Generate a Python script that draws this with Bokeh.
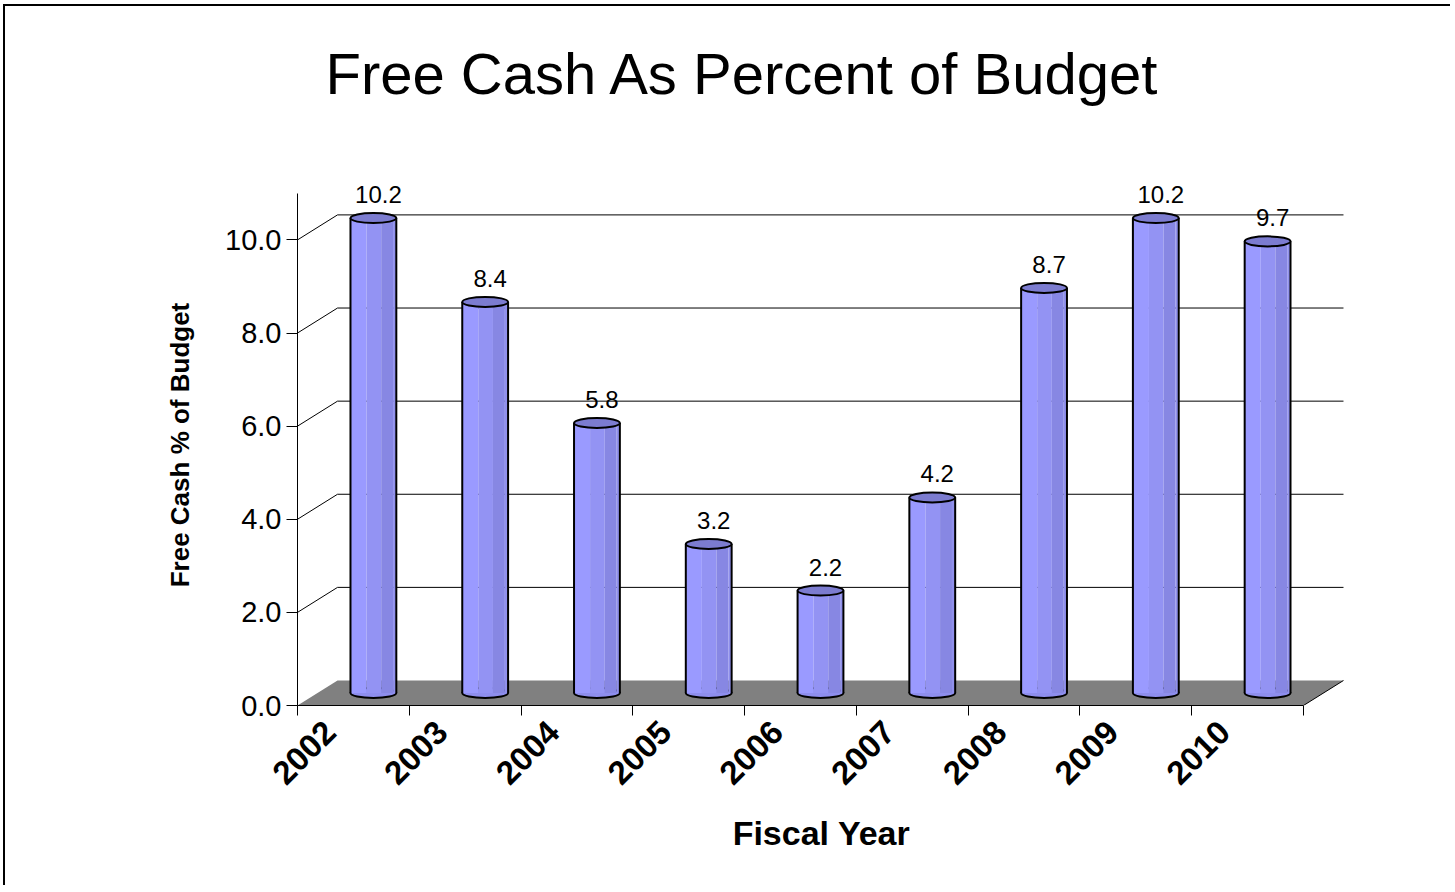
import numpy as np
from bokeh.plotting import figure
from bokeh.models import (Range1d, FixedTicker, PrintfTickFormatter, ColumnDataSource, LabelSet,
                          LinearAxis, Title, InlineStyleSheet)
from bokeh.core.properties import value
from bokeh.embed import file_html
from bokeh.resources import INLINE

# ---------------- data ----------------
years = ["2002", "2003", "2004", "2005", "2006", "2007", "2008", "2009", "2010"]
free_cash_pct = [10.2, 8.4, 5.8, 3.2, 2.2, 4.2, 8.7, 10.2, 9.7]
y_ticks = [0, 2, 4, 6, 8, 10]
y_max = 11

title_text = "Free Cash As Percent of Budget"
x_title = "Fiscal Year"
y_title = "Free Cash % of Budget"

# ---------------- style ----------------
FONT = "Liberation Sans"
DX, DY = 0.358, 0.537        # pseudo-3D depth offset (data units)
BAR_W = 0.41                 # cylinder width (category units)
CAP_H = 0.215                # cap ellipse height (value units)
STRIPS = [(0.00, 0.35, "#9A9AFF"), (0.35, 0.67, "#9393F3"),
          (0.67, 0.93, "#8787E3"), (0.93, 1.00, "#9090EC")]
CAP_COLOR = "#7C7CD0"
LABEL_SHIFT = 0.21           # rotated year labels anchor left of slot centre
OX, OY = 5, 6                # slide border offset

n = len(years)
W, H = 1455 - OX, 892 - OY - 2

p = figure(width=W, height=H, x_range=Range1d(0, n + 0.376), y_range=Range1d(0, 11.19),
           output_backend="svg", toolbar_location=None,
           min_border_left=297 - OX, min_border_right=W - (1345 - OX),
           min_border_top=184 - OY, min_border_bottom=H - (705 - OY),
           background_fill_color="white", border_fill_color="white")
p.margin = (OY, 0, 0, OX)
p.stylesheets = [InlineStyleSheet(css=":host { box-shadow: -2px -2px 0px 0px black; "
                                      "clip-path: inset(-3px 5px 5px -3px); }")]
p.outline_line_color = None
p.grid.visible = False
p.title_location = None

# invisible spacer between title and plot area (one hidden tick gives it its height)
spacer = LinearAxis(ticker=FixedTicker(ticks=[n / 2]), major_label_overrides={n / 2: ""},
                    major_tick_out=74, major_tick_in=0, major_label_standoff=0,
                    major_label_text_font_size="1px",
                    axis_line_color=None, major_tick_line_color=None,
                    minor_tick_line_color=None)
p.add_layout(spacer, "above")

# title (outside the spacer)
p.add_layout(Title(text=title_text, text_font=FONT, text_font_size="58px",
                   text_font_style="normal", text_color="black",
                   align="left", offset=28, standoff=10), "above")

# y axis
yax = p.left[0]
yax.bounds = (0, y_max)
yax.ticker = FixedTicker(ticks=y_ticks)
yax.formatter = PrintfTickFormatter(format="%.1f")
yax.major_tick_out = 11
yax.major_tick_in = 0
yax.minor_tick_line_color = None
yax.major_tick_line_color = "black"
yax.axis_line_color = "black"
yax.major_label_standoff = 5
yax.major_label_text_font = FONT
yax.major_label_text_font_size = "29px"
yax.major_label_text_color = "black"
yax.axis_label = y_title
yax.axis_label_text_font = FONT
yax.axis_label_text_font_size = "26px"
yax.axis_label_text_font_style = "bold"
yax.axis_label_text_color = "black"
yax.axis_label_standoff = 27

# x axis
label_pos = [i + 0.5 - LABEL_SHIFT for i in range(n)]
bounds = [float(i) for i in range(n + 1)]
xax = p.below[0]
xax.bounds = (0, n)
xax.ticker = FixedTicker(ticks=label_pos, minor_ticks=bounds)
xax.major_label_overrides = {c: y for c, y in zip(label_pos, years)}
xax.major_label_orientation = np.pi / 4
xax.major_tick_line_color = None
xax.major_tick_out = 10
xax.minor_tick_out = 10
xax.minor_tick_in = 0
xax.minor_tick_line_color = "black"
xax.axis_line_color = "black"
xax.major_label_standoff = 11
xax.major_label_text_font = FONT
xax.major_label_text_font_size = "33px"
xax.major_label_text_font_style = "bold"
xax.major_label_text_color = "black"
xax.axis_label = x_title
xax.axis_label_text_font = FONT
xax.axis_label_text_font_size = "34px"
xax.axis_label_text_font_style = "bold"
xax.axis_label_text_color = "black"
xax.axis_label_standoff = 16

# back-wall gridlines
gv = [v for v in y_ticks if v > 0]
grid_src = ColumnDataSource(dict(
    x0=[0.0] * len(gv) + [DX] * len(gv),
    y0=[v for v in gv] + [v + DY for v in gv],
    x1=[DX] * len(gv) + [n + DX] * len(gv),
    y1=[v + DY for v in gv] + [v + DY for v in gv],
))
p.segment(x0="x0", y0="y0", x1="x1", y1="y1", source=grid_src, line_color="black", line_width=1)

# floor
p.patch(x=[0, n, n + DX, DX], y=[0, 0, DY, DY], fill_color="#808080", line_color=None)
p.line(x=[n, n + DX], y=[0, DY], line_color="black", line_width=1)

# cylinders
cx = [i + 0.5 + DX / 2 for i in range(n)]
top = [v + DY / 2 for v in free_cash_pct]
src = ColumnDataSource(dict(
    cx=cx, top=top, base=[DY / 2] * n,
    left=[c - BAR_W / 2 for c in cx], right=[c + BAR_W / 2 for c in cx],
    lbl=[f"{v:.1f}" for v in free_cash_pct],
))
p.ellipse(x="cx", y="base", width=BAR_W, height=CAP_H, source=src,
          fill_color="#8E8EEE", line_color="black", line_width=2)
for f0, f1, col in STRIPS:
    p.quad(left=[c - BAR_W / 2 + f0 * BAR_W for c in cx],
           right=[c - BAR_W / 2 + f1 * BAR_W for c in cx],
           bottom=[DY / 2] * n, top=top, fill_color=col, line_color=None)
p.segment(x0="left", y0="base", x1="left", y1="top", source=src, line_color="black", line_width=2)
p.segment(x0="right", y0="base", x1="right", y1="top", source=src, line_color="black", line_width=2)
p.ellipse(x="cx", y="top", width=BAR_W, height=CAP_H, source=src,
          fill_color=CAP_COLOR, line_color="black", line_width=2)

# value labels
p.add_layout(LabelSet(x="cx", y="top", text="lbl", source=src, x_offset=5, y_offset=15,
                      text_align="center", text_baseline="alphabetic",
                      text_font=value(FONT), text_font_size=value("24px"), text_color="black"))

open("out.html", "w").write(file_html(p, INLINE))
